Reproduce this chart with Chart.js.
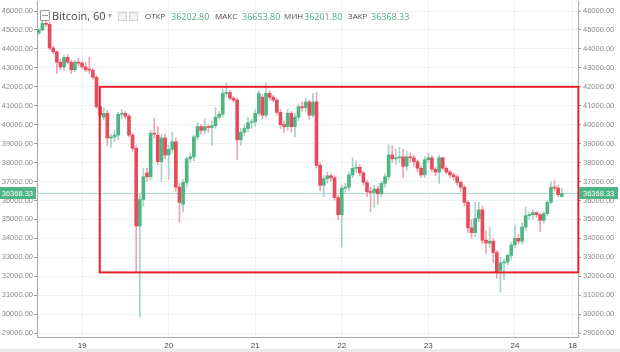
<!DOCTYPE html>
<html>
<head>
<meta charset="utf-8">
<script src="https://cdn.jsdelivr.net/npm/chart.js@4.4.1/dist/chart.umd.min.js"></script>
<style>
  html, body { margin: 0; padding: 0; background: #fff; }
  #wrap { position: relative; width: 620px; height: 352px; overflow: hidden; }
  #chart { position: absolute; left: 0; top: 0; }
  .hd { position: absolute; font-family: "Open Sans", sans-serif; white-space: nowrap; line-height: 1; }
  .lbl { top: 12px; font-size: 8px; color: #4a4a4a; }
  .val { top: 11.5px; font-size: 9px; color: #4caf80; }
  .sq { position: absolute; top: 12px; width: 7px; height: 7px; border: 1px solid #d6d6d6; background: #f1f1f1; }
  #icon { position: absolute; left: 40px; top: 10px; width: 8px; height: 9px; border: 1px solid #9a9a9a; border-radius: 1px; }
  #icon:after { content: ""; position: absolute; left: 1px; right: 1px; top: 4px; height: 1px; background: #9a9a9a; }
  #band { position: absolute; left: 0; right: 0; bottom: 0; height: 3px; background: #e9edf0; }
</style>
</head>
<body>
<div id="wrap">
  <canvas id="chart" width="620" height="352"></canvas>
  <div id="icon"></div>
  <div class="hd" style="left:52px;top:10px;font-size:11px;color:#4a4a4a;">Bitcoin, 60</div>
  <div class="hd" style="left:108px;top:11px;font-size:8px;color:#aaa;">▾</div>
  <div class="sq" style="left:118px;"></div>
  <div class="sq" style="left:129px;"></div>
  <div class="hd lbl" style="left:145px;">ОТКР</div>
  <div class="hd val" style="left:171px;" id="vO"></div>
  <div class="hd lbl" style="left:215px;">МАКС</div>
  <div class="hd val" style="left:242px;" id="vH"></div>
  <div class="hd lbl" style="left:284px;">МИН</div>
  <div class="hd val" style="left:304px;" id="vL"></div>
  <div class="hd lbl" style="left:348px;">ЗАКР</div>
  <div class="hd val" style="left:371px;" id="vC"></div>
  <div id="band"></div>
</div>
<script>
// hourly candles, 18th 12:00 .. 24th 13:00
const opens = [
  44850, 45000, 45350, 45300, 44050, 43850, 43300, 43050, 43550, 43300,
  42900, 43300, 43250, 43050, 42900, 42880, 42500, 40950, 40400, 40600,
  39300, 39350, 39450, 40550, 40600, 40450, 39450, 38750, 34650, 36050,
  37450, 37250, 39550, 39450, 38050, 39300, 38400, 38700, 39100, 36700,
  35800, 36950, 38200, 38300, 39350, 39900, 39700, 39900, 39850, 39950,
  40400, 40550, 41650, 41700, 41400, 41300, 39200, 39600, 39800, 40100,
  40150, 40600, 41450, 40500, 41650, 41450, 41300, 40650, 40000, 39900,
  40600, 39900, 40400, 40950, 40900, 41200, 40500, 41200, 37850, 36800,
  37150, 37300, 37200, 36150, 35250, 36650, 36700, 37350, 37700, 37750,
  37450, 36950, 36450, 36420, 36600, 36350, 36900, 37250, 38400, 38200,
  38250, 38300, 37800, 38300, 38250, 38050, 37700, 37350, 38150, 38250,
  37650, 37500, 38250, 37700, 37500, 37350, 37250, 36950, 36700, 35900,
  34550, 34300, 35050, 35500, 33900, 33750, 33850, 33250, 32300, 32700,
  32750, 33100, 33650, 34000, 33850, 34600, 35200, 35250, 35350, 35250,
  34950, 35300, 35900, 36700, 36650, 36202.80
];
const highs = [
  45050, 45450, 45500, 45400, 44150, 43900, 43450, 43650, 43700, 43400,
  43400, 43500, 43350, 43300, 43550, 42950, 42600, 41050, 40900, 40750,
  39500, 39700, 40650, 40800, 40700, 40550, 39550, 38900, 36300, 37700,
  37700, 39700, 40350, 39900, 39500, 39500, 38900, 39600, 39300, 36900,
  37100, 38300, 38500, 39450, 40100, 40000, 40300, 40000, 40200, 40900,
  40700, 41900, 42200, 41800, 41500, 41400, 39800, 40000, 40400, 40300,
  40800, 41800, 41600, 42200, 41800, 41550, 41400, 40800, 40200, 40800,
  40700, 40600, 41100, 41200, 41400, 41300, 41650, 41700, 38000, 37300,
  37500, 37400, 37300, 36300, 36800, 36900, 37500, 38250, 38100, 37900,
  37550, 37050, 36700, 36800, 36750, 37000, 37400, 38950, 38900, 38700,
  38800, 38700, 38600, 38500, 38400, 38150, 37800, 38300, 38500, 38350,
  37750, 38400, 38300, 37800, 37600, 37450, 37350, 37050, 36800, 36000,
  35000, 35900, 35900, 35700, 34400, 34600, 34000, 33350, 33000, 32900,
  33200, 33800, 34700, 34200, 34800, 35650, 35400, 35500, 35400, 35350,
  35400, 36000, 37000, 37050, 36800, 36653.80
];
const lows = [
  44750, 44950, 45200, 43950, 43750, 42700, 42900, 42850, 43200, 42700,
  42800, 43100, 42950, 42800, 42700, 42400, 40850, 40300, 40250, 38900,
  38800, 39100, 39200, 40300, 40300, 39350, 38600, 32200, 29850, 35700,
  37000, 37100, 39300, 37900, 37000, 38200, 37100, 38500, 36500, 34850,
  35400, 36700, 38000, 38100, 39200, 39500, 39500, 39600, 38900, 39800,
  40300, 40400, 41500, 41300, 41200, 38150, 38900, 39400, 39600, 39800,
  39900, 40500, 40300, 40400, 41300, 41200, 40500, 39800, 39600, 39700,
  39600, 39350, 40200, 40700, 40700, 40300, 40400, 37700, 36500, 36200,
  36900, 37000, 36000, 35000, 33550, 36400, 36500, 37200, 37500, 37300,
  36800, 36200, 35400, 35650, 35800, 36200, 36700, 37100, 38000, 37900,
  38000, 37200, 37600, 38000, 37800, 37500, 37200, 37200, 38000, 37500,
  37300, 36900, 37600, 37400, 37200, 37100, 36800, 36500, 35700, 34300,
  34000, 34100, 34900, 33700, 33200, 33500, 32700, 31900, 31150, 31800,
  32600, 32900, 33500, 33700, 33700, 34400, 35000, 35000, 35100, 34350,
  34800, 35200, 35800, 36500, 36200, 36201.80
];
const closes = [
  45000, 45350, 45300, 44050, 43850, 43300, 43050, 43550, 43300, 42900,
  43300, 43250, 43050, 42900, 42880, 42500, 40950, 40500, 40600, 39300,
  39350, 39450, 40550, 40600, 40450, 39450, 38750, 34650, 36050, 37250,
  37250, 39550, 39500, 38050, 39300, 38400, 38700, 39100, 36700, 35900,
  36950, 38200, 38300, 39350, 39900, 39700, 39900, 39850, 39950, 40400,
  40550, 41650, 41700, 41400, 41300, 39200, 39600, 39800, 40100, 40150,
  40600, 41650, 40500, 41650, 41450, 41300, 40650, 40000, 39900, 40600,
  39900, 40400, 40950, 40900, 41200, 40500, 41200, 37850, 36800, 37150,
  37300, 37200, 36150, 35250, 36650, 36700, 37350, 37700, 37750, 37450,
  36950, 36450, 36420, 36600, 36350, 36900, 37250, 38400, 38200, 38250,
  38300, 37800, 38300, 38250, 38050, 37700, 37350, 38150, 38250, 37650,
  37500, 38250, 37700, 37500, 37350, 37250, 36950, 36700, 35900, 34550,
  34300, 35050, 35500, 33900, 33750, 33850, 33250, 32200, 32700, 32750,
  33100, 33650, 34000, 33850, 34600, 35200, 35250, 35350, 35250, 34950,
  35300, 35900, 36700, 36650, 36300, 36368.33
];

const dayLabels = ['19', '20', '21', '22', '23', '24', '18'];
const dayIndex = [12, 36, 60, 84, 108, 132, 148];
const slotCount = 150;
const priceTicks = [29000, 30000, 31000, 32000, 33000, 34000, 35000, 36000, 37000,
  38000, 39000, 40000, 41000, 42000, 43000, 44000, 45000, 46000];
// highlighted zone: [slot, price] corners
const zoneFrom = [16.9, 42000];
const zoneTo = [149.6, 32200];

const UP = '#50b584', DOWN = '#e74c5d';
const UP_WICK = '#a7d3c4', DOWN_WICK = '#f1a4ad';

const last = closes.length - 1;
document.getElementById('vO').textContent = opens[last].toFixed(2);
document.getElementById('vH').textContent = highs[last].toFixed(2);
document.getElementById('vL').textContent = lows[last].toFixed(2);
document.getElementById('vC').textContent = closes[last].toFixed(2);

const cats = [];
for (let i = 0; i < slotCount; i++) cats.push('');
dayIndex.forEach((k, j) => { cats[k] = dayLabels[j]; });

const isUp = opens.map((o, i) => closes[i] >= o);

const axisFont = { family: 'Liberation Sans', size: 7.5 };

const overlay = {
  id: 'overlay',
  beforeDatasetsDraw(chart) {
    const { ctx, chartArea: a, scales: { y } } = chart;
    const py = Math.round(y.getPixelForValue(closes[last])) + 0.5;
    ctx.save();
    ctx.strokeStyle = '#a9dcca';
    ctx.lineWidth = 1;
    ctx.beginPath();
    ctx.moveTo(a.left, py);
    ctx.lineTo(a.right, py);
    ctx.stroke();
    ctx.restore();
  },
  afterDatasetsDraw(chart) {
    const { ctx, scales: { x, y } } = chart;
    const x0 = x.getPixelForValue(zoneFrom[0]);
    const x1 = x.getPixelForValue(zoneTo[0]);
    const y0 = y.getPixelForValue(zoneFrom[1]);
    const y1 = y.getPixelForValue(zoneTo[1]);
    ctx.save();
    ctx.strokeStyle = '#e8202a';
    ctx.lineWidth = 2;
    ctx.strokeRect(x0, y0, x1 - x0, y1 - y0);
    ctx.restore();
  },
  afterDraw(chart) {
    const { ctx, chartArea: a, scales: { y } } = chart;
    const py = Math.round(y.getPixelForValue(closes[last]));
    const txt = closes[last].toFixed(2);
    ctx.save();
    ctx.font = '7.5px "Liberation Sans"';
    ctx.textBaseline = 'middle';
    ctx.fillStyle = UP;
    ctx.fillRect(a.right + 1, py - 6, 39, 12);
    ctx.fillRect(0, py - 6, a.left - 1, 12);
    ctx.fillStyle = '#fff';
    ctx.textAlign = 'left';
    ctx.fillText(txt, a.right + 5, py + 0.5);
    ctx.textAlign = 'right';
    ctx.fillText(txt, a.left - 4, py + 0.5);
    ctx.restore();
  }
};

new Chart(document.getElementById('chart'), {
  type: 'bar',
  data: {
    labels: cats,
    datasets: [
      {
        label: 'body',
        data: opens.map((o, i) => [o, closes[i]]),
        backgroundColor: isUp.map(u => u ? UP : DOWN),
        barThickness: 3,
        minBarLength: 1,
        grouped: false,
        order: 0
      },
      {
        label: 'wick',
        data: lows.map((l, i) => [l, highs[i]]),
        backgroundColor: isUp.map(u => u ? UP_WICK : DOWN_WICK),
        barThickness: 1,
        grouped: false,
        order: 1,
        yAxisID: 'y'
      }
    ]
  },
  options: {
    responsive: false,
    animation: false,
    layout: { padding: { top: 1, left: 0, right: 0, bottom: 0 } },
    plugins: { legend: { display: false }, tooltip: { enabled: false } },
    scales: {
      x: {
        type: 'category',
        offset: true,
        grid: { offset: false, color: '#eef1f4', drawTicks: false },
        border: { color: '#a9a9a9' },
        ticks: { autoSkip: false, maxRotation: 0, color: '#444', font: { family: 'Liberation Sans', size: 8 }, padding: 4 },
        afterBuildTicks: s => { s.ticks = s.ticks.filter(t => cats[t.value] !== ''); },
        afterFit: s => { s.height = 15; s.paddingLeft = 0; s.paddingRight = 0; }
      },
      y: {
        position: 'right',
        min: 28790,
        max: 46530,
        grid: { drawOnChartArea: false, tickLength: 3, color: '#9a9a9a' },
        border: { color: '#a9a9a9' },
        ticks: { color: '#8a8a8a', font: axisFont, padding: 2, callback: v => v.toFixed(2) },
        afterBuildTicks: s => { s.ticks = priceTicks.map(v => ({ value: v })); },
        afterFit: s => { s.width = 42; s.paddingTop = 0; s.paddingBottom = 0; }
      },
      yl: {
        position: 'left',
        min: 28790,
        max: 46530,
        grid: { color: '#eef1f4', tickLength: 3, tickColor: '#9a9a9a' },
        border: { color: '#a9a9a9' },
        ticks: { color: '#8a8a8a', font: axisFont, padding: 1, callback: v => v.toFixed(2) },
        afterBuildTicks: s => { s.ticks = priceTicks.map(v => ({ value: v })); },
        afterFit: s => { s.width = 37; s.paddingTop = 0; s.paddingBottom = 0; }
      }
    }
  },
  plugins: [overlay]
});
</script>
</body>
</html>
